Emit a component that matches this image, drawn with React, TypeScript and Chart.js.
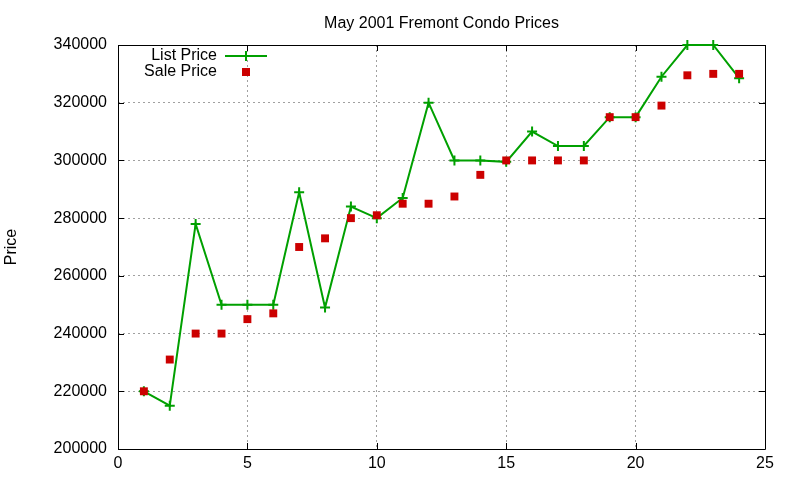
import React, { useEffect, useRef } from "react";
import { Chart, registerables } from "chart.js";

Chart.register(...registerables);

const days = [1, 2, 3, 4, 5, 6, 7, 8, 9, 10, 11, 12, 13, 14, 15, 16, 17, 18, 19, 20, 21, 22, 23, 24];
const listPrice = [220000, 215000, 278000, 250000, 250000, 250000, 289000, 249000, 284000, 280000, 287000, 320000, 300000, 300000, 299500, 310000, 305000, 305000, 315000, 315000, 329000, 340000, 340000, 328500];
const salePrice = [220000, 231000, 240000, 240000, 245000, 247000, 270000, 273000, 280000, 281000, 285000, 285000, 287500, 295000, 300000, 300000, 300000, 300000, 315000, 315000, 319000, 329500, 330000, 330000];
const xTicks = [0, 5, 10, 15, 20, 25];
const yTicks = [200000, 220000, 240000, 260000, 280000, 300000, 320000, 340000];
const titleText = "May 2001 Fremont Condo Prices";
const yTitle = "Price";
const seriesNames = ["List Price", "Sale Price"];

const FONT = '"Liberation Sans", Arial, sans-serif';
const GREEN = "#00a000";
const RED = "#cc0000";

const framePlugin = {
  id: "gnuplotFrame",
  beforeDatasetsDraw(chart: any) {
    const { ctx, chartArea } = chart;
    const { left, right, top, bottom } = chartArea;
    const xs = chart.scales.x;
    const ys = chart.scales.y;
    ctx.save();
    ctx.strokeStyle = "#000";
    ctx.lineWidth = 1;
    ctx.setLineDash([]);
    ctx.beginPath();
    ctx.rect(Math.round(left) + 0.5, Math.round(top) + 0.5, Math.round(right - left), Math.round(bottom - top));
    ctx.stroke();
    const tl = 6;
    ctx.beginPath();
    xTicks.forEach((v) => {
      const px = Math.round(xs.getPixelForValue(v)) + 0.5;
      ctx.moveTo(px, bottom);
      ctx.lineTo(px, bottom - tl);
      ctx.moveTo(px, top);
      ctx.lineTo(px, top + tl);
    });
    yTicks.forEach((v) => {
      const py = Math.round(ys.getPixelForValue(v)) + 0.5;
      ctx.moveTo(left, py);
      ctx.lineTo(left + tl, py);
      ctx.moveTo(right, py);
      ctx.lineTo(right - tl, py);
    });
    ctx.stroke();
    ctx.restore();
  },
  afterDraw(chart: any) {
    const { ctx, chartArea } = chart;
    const { left, right, top, bottom } = chartArea;
    ctx.save();
    ctx.fillStyle = "#000";
    ctx.font = `16px ${FONT}`;
    ctx.textAlign = "center";
    ctx.textBaseline = "alphabetic";
    ctx.fillText(titleText, (left + right) / 2, 28);
    // y title
    ctx.save();
    ctx.translate(16, (top + bottom) / 2);
    ctx.rotate(-Math.PI / 2);
    ctx.textAlign = "center";
    ctx.textBaseline = "alphabetic";
    ctx.fillText(yTitle, 0, 0);
    ctx.restore();
    // legend
    ctx.textAlign = "right";
    ctx.textBaseline = "middle";
    ctx.fillText(seriesNames[0], 217, 56);
    ctx.fillText(seriesNames[1], 217, 72);
    ctx.strokeStyle = GREEN;
    ctx.lineWidth = 2;
    ctx.beginPath();
    ctx.moveTo(225, 56);
    ctx.lineTo(267, 56);
    ctx.moveTo(246, 51);
    ctx.lineTo(246, 61);
    ctx.stroke();
    ctx.fillStyle = RED;
    ctx.fillRect(242, 68, 8, 8);
    ctx.restore();
  },
};

export default function App() {
  const ref = useRef<HTMLCanvasElement | null>(null);
  useEffect(() => {
    document.body.style.margin = "0";
    if (!ref.current) return;
    const chart = new Chart(ref.current, {
      type: "line",
      data: {
        datasets: [
          {
            label: seriesNames[0],
            data: days.map((d, i) => ({ x: d, y: listPrice[i] })),
            borderColor: GREEN,
            backgroundColor: GREEN,
            borderWidth: 2,
            pointStyle: "cross",
            pointRadius: 5,
            pointBorderWidth: 2,
            pointBorderColor: GREEN,
            tension: 0,
            fill: false,
            clip: false,
            order: 1,
          },
          {
            label: seriesNames[1],
            data: days.map((d, i) => ({ x: d, y: salePrice[i] })),
            showLine: false,
            pointStyle: "rect",
            pointRadius: 5.6,
            pointBorderWidth: 0,
            backgroundColor: RED,
            borderColor: RED,
            clip: false,
            order: 0,
          },
        ],
      },
      options: {
        animation: false,
        responsive: true,
        maintainAspectRatio: false,
        devicePixelRatio: 1,
        layout: { padding: { left: 0, right: 35, top: 45, bottom: 0 } },
        plugins: {
          legend: { display: false },
          title: { display: false },
          tooltip: { enabled: false },
        },
        scales: {
          x: {
            type: "linear",
            min: 0,
            max: 25,
            afterFit: (s: any) => {
              s.height = 31;
            },
            afterBuildTicks: (s: any) => {
              s.ticks = xTicks.map((v) => ({ value: v }));
            },
            border: { display: false, dash: [2, 3] },
            grid: {
              color: "#a0a0a0",
              lineWidth: 1,
              drawTicks: false,
            },
            ticks: {
              color: "#000",
              font: { family: FONT, size: 16 },
              padding: 5,
              maxRotation: 0,
            },
          },
          y: {
            type: "linear",
            min: 200000,
            max: 340000,
            afterFit: (s: any) => {
              s.width = 118;
            },
            afterBuildTicks: (s: any) => {
              s.ticks = yTicks.map((v) => ({ value: v }));
            },
            border: { display: false, dash: [2, 3] },
            grid: {
              color: "#a0a0a0",
              lineWidth: 1,
              drawTicks: false,
            },
            ticks: {
              color: "#000",
              font: { family: FONT, size: 16 },
              padding: 11,
              callback: (v: any) => String(v),
            },
          },
        },
      },
      plugins: [framePlugin],
    } as any);
    return () => chart.destroy();
  }, []);
  return (
    <div style={{ position: "fixed", left: 0, top: 0, width: 800, height: 480 }}>
      <canvas ref={ref} />
    </div>
  );
}
